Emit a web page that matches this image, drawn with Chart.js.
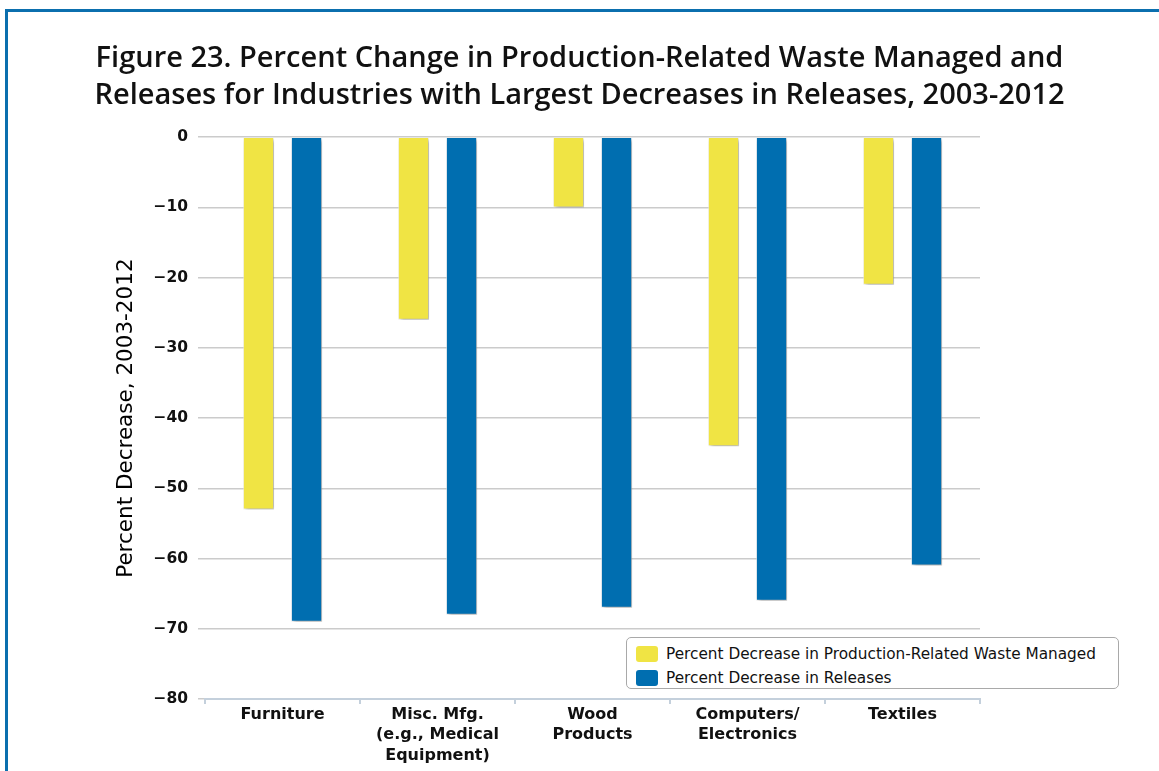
<!DOCTYPE html>
<html>
<head>
<meta charset="utf-8">
<title>Figure 23</title>
<script src="https://cdn.jsdelivr.net/npm/chart.js@4.4.1/dist/chart.umd.min.js"></script>
<style>
  html, body { margin: 0; padding: 0; background: #fff; }
  #wrap { position: relative; width: 1159px; height: 771px; overflow: hidden; }
  #frame {
    position: absolute; left: 5px; top: 9px; width: 1300px; height: 900px;
    border-top: 3px solid #0b6fae; border-left: 3px solid #0b6fae;
    pointer-events: none;
  }
  #legend {
    position: absolute; left: 626px; top: 637px; width: 493px; height: 52px;
    box-sizing: border-box; border: 1px solid #a9a9a9; border-radius: 5px;
    background: #fff; padding: 4px 0 0 9px;
    font: 15.3px "DejaVu Sans", sans-serif; color: #111;
  }
  #legend div { height: 24px; line-height: 24px; white-space: nowrap; }
  #legend span {
    display: inline-block; width: 22px; height: 16px; border-radius: 3px;
    vertical-align: -3px; margin-right: 8px;
  }
</style>
</head>
<body>
<div id="wrap">
  <canvas id="chart"></canvas>
  <div id="frame"></div>
  <div id="legend"></div>
</div>
<script>
// --- data ---
const categories = [
  ["Furniture"],
  ["Misc. Mfg.", "(e.g., Medical", "Equipment)"],
  ["Wood", "Products"],
  ["Computers/", "Electronics"],
  ["Textiles"]
];
const wasteManaged = [-53, -26, -10, -44, -21];
const releases = [-69, -68, -67, -66, -61];
const yMin = -80, yMax = 0, yStep = 10;

const seriesNames = [
  "Percent Decrease in Production-Related Waste Managed",
  "Percent Decrease in Releases"
];
const colors = ["#f0e444", "#006eb0"];

// soft drop shadow under the bars, like the original
const barShadow = {
  id: "barShadow",
  beforeDatasetsDraw(chart) {
    const ctx = chart.ctx;
    ctx.save();
    ctx.shadowColor = "rgba(0,0,0,0.35)";
    ctx.shadowOffsetX = 2;
    ctx.shadowOffsetY = 2;
    ctx.shadowBlur = 4;
  },
  afterDatasetsDraw(chart) {
    chart.ctx.restore();
  }
};

const tickFont = { family: "DejaVu Sans", size: 15.5, weight: "bold" };

const chart = new Chart(document.getElementById("chart"), {
  type: "bar",
  data: {
    labels: categories,
    datasets: [
      { label: seriesNames[0], data: wasteManaged, backgroundColor: colors[0] },
      { label: seriesNames[1], data: releases, backgroundColor: colors[1] }
    ]
  },
  options: {
    responsive: true,
    maintainAspectRatio: false,
    animation: false,
    layout: { padding: 0 },
    datasets: {
      bar: {
        categoryPercentage: 0.62,
        barPercentage: 0.65,
        borderWidth: 1,
        borderColor: "rgba(255,255,255,0.6)"
      }
    },
    plugins: {
      legend: { display: false },
      tooltip: { enabled: false },
      title: {
        display: true,
        text: [
          "Figure 23. Percent Change in Production-Related Waste Managed and",
          "Releases for Industries with Largest Decreases in Releases, 2003-2012"
        ],
        color: "#111",
        font: { family: "Open Sans", size: 29, weight: "600", lineHeight: 1.28 },
        padding: { top: 40, bottom: 23 }
      }
    },
    scales: {
      x: {
        grid: {
          offset: true,
          drawOnChartArea: false,
          tickLength: 5,
          color: "#c4d0dc",
          lineWidth: 2
        },
        border: { color: "#c4d0dc", width: 2 },
        ticks: {
          color: "#111",
          font: { family: "DejaVu Sans", size: 16, weight: "bold", lineHeight: 1.3 },
          padding: 0,
          maxRotation: 0,
          autoSkip: false
        },
        afterFit(scale) { scale.height = 72; }
      },
      y: {
        min: yMin,
        max: yMax,
        grid: { color: "#cbcbcb", lineWidth: 1.5, tickLength: 7 },
        border: { display: false },
        ticks: {
          stepSize: yStep,
          color: "#111",
          font: tickFont,
          padding: 10,
          callback: v => (v < 0 ? "\u2212" + Math.abs(v) : String(v))
        },
        title: {
          display: true,
          text: "Percent Decrease, 2003-2012",
          color: "#000",
          font: { family: "DejaVu Sans", size: 21.5 },
          padding: { top: 114, bottom: 0 }
        },
        afterFit(scale) { scale.width = 205; }
      },
      yRight: {
        position: "right",
        display: true,
        grid: { display: false },
        border: { display: false },
        ticks: { display: false },
        afterFit(scale) { scale.width = 179; }
      }
    }
  },
  plugins: [barShadow]
});

// legend box built from the datasets
const legend = document.getElementById("legend");
chart.data.datasets.forEach(ds => {
  const row = document.createElement("div");
  const sw = document.createElement("span");
  sw.style.background = ds.backgroundColor;
  row.appendChild(sw);
  row.appendChild(document.createTextNode(ds.label));
  legend.appendChild(row);
});
</script>
</body>
</html>
